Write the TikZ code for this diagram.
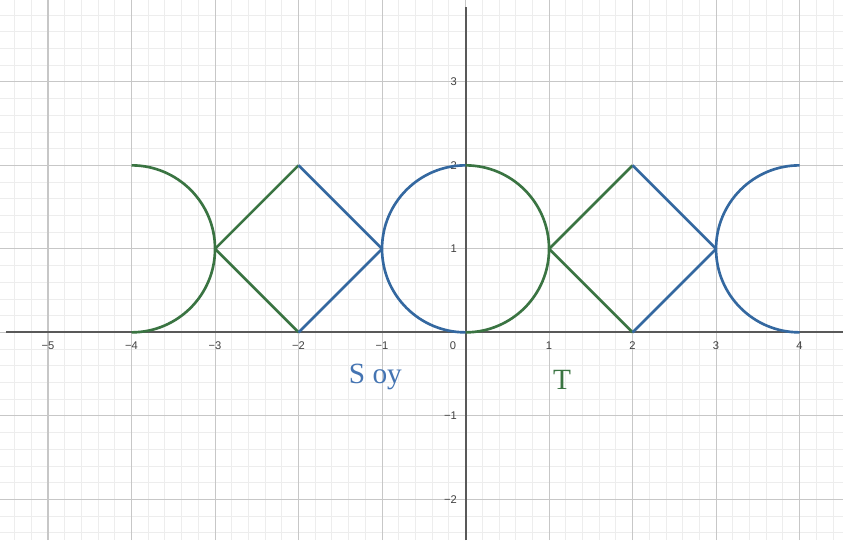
\documentclass[tikz,border=0pt]{standalone}
\usepackage{fontspec}
\setmainfont{Liberation Serif}
\newfontfamily\ticksans{Liberation Sans}
\usetikzlibrary{positioning}
\definecolor{curveblue}{RGB}{52,104,160}
\definecolor{curvegreen}{RGB}{58,116,66}
\definecolor{labelblue}{RGB}{68,116,178}

\begin{document}
\begin{tikzpicture}[
  minorgrid/.style={draw=black!7, line width=0.3pt},
  majorgrid/.style={draw=black!22, line width=0.35pt},
  axis/.style={draw=black!65, line width=0.7pt},
  bluecurve/.style={draw=curveblue, line width=0.9pt, line join=round},
  greencurve/.style={draw=curvegreen, line width=0.9pt, line join=round},
  ticklabel/.style={font=\ticksans\fontsize{3.8}{4}\selectfont, text=black!75, inner sep=0.5pt},
  curvelabel/.style={font=\fontsize{10}{12}\selectfont, anchor=base, inner sep=0pt},
]
  \useasboundingbox (-5.575,-2.487) rectangle (4.52,3.98);
  \fill[white] (-5.575,-2.487) rectangle (4.52,3.98);
  % grid
  \draw[minorgrid, step=0.2] (-5.575,-2.487) grid (4.52,3.98);
  \draw[majorgrid, step=1] (-5.575,-2.487) grid (4.52,3.98);
  % axes
  \coordinate (xstart) at (-5.5,0);
  \coordinate (xend) at (4.52,0);
  \coordinate (ystart) at (0,-2.487);
  \coordinate (yend) at (0,3.9);
  \draw[axis] (xstart) -- (xend);
  \draw[axis] (ystart) -- (yend);
  % tick labels
  \foreach \k in {1,...,5}
    \node[ticklabel] (xneg\k) at (-\k,-0.155) {−\k};
  \foreach \k in {1,...,4}
    \node[ticklabel] (xpos\k) at (\k,-0.155) {\k};
  \node[ticklabel] (orig) at (-0.15,-0.155) {0};
  \foreach \k in {1,2,3}
    \node[ticklabel, anchor=east] (ypos\k) at (-0.08,\k) {\k};
  \foreach \k in {1,2}
    \node[ticklabel, anchor=east] (yneg\k) at (-0.08,-\k) {−\k};
  % the two repeating blocks
  \foreach \s in {-4,0} {
    \begin{scope}[xshift=\s cm]
      \coordinate (top) at (0,2);
      \coordinate (bot) at (0,0);
      \coordinate (gtip) at (1,1);
      \coordinate (dtop) at (2,2);
      \coordinate (dbot) at (2,0);
      \coordinate (btip) at (3,1);
      \coordinate (etop) at (4,2);
      \draw[greencurve] (top) arc[start angle=90, end angle=-90, radius=1];
      \draw[greencurve] (dtop) -- (gtip) -- (dbot);
      \draw[bluecurve] (dtop) -- (btip) -- (dbot);
      \draw[bluecurve] (etop) arc[start angle=90, end angle=270, radius=1];
    \end{scope}
  }
  % labels
  \node[curvelabel, text=labelblue] (soy) at (-1.08,-0.607) {S oy};
  \node[curvelabel, text=curvegreen] (tlab) at (1.156,-0.69) {T};
\end{tikzpicture}
\end{document}
